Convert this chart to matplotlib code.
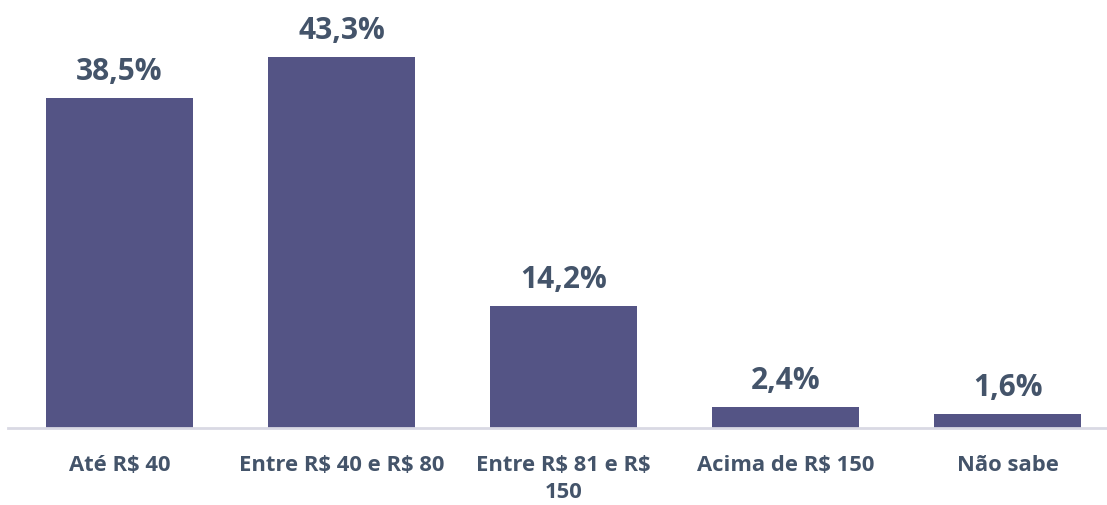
import numpy as np
import matplotlib.pyplot as plt

# Categories and percentages
categories = ["Até R$ 40", "Entre R$ 40 e R$ 80", "Entre R$ 81 e R$\n150",
              "Acima de R$ 150", "Não sabe"]
values = [38.5, 43.3, 14.2, 2.4, 1.6]
value_labels = ["38,5%", "43,3%", "14,2%", "2,4%", "1,6%"]

bar_color = "#545485"
text_color = "#44546A"

plt.rcParams['font.family'] = ['Open Sans', 'DejaVu Sans']

fig = plt.figure(figsize=(11.07, 5.06), dpi=100)
ax = fig.add_axes([0.0, 0.1522, 1.0, 0.8478])

x = np.arange(len(categories))
ax.bar(x, values, width=0.66, color=bar_color, zorder=2)

# value labels above bars
for xi, v, lab in zip(x, values, value_labels):
    ax.annotate(lab, (xi, v), xytext=(0, 14), textcoords='offset points',
                ha='center', va='baseline', fontsize=21.5, fontweight='bold',
                color=text_color)

ax.set_xlim(-0.538, 4.448)
ax.set_ylim(0, 50.1)
ax.set_xticks(x)
ax.set_xticklabels([c.replace("$", r"\$") for c in categories], fontsize=15.8,
                   fontweight='bold', color=text_color, linespacing=1.35)
ax.tick_params(axis='x', length=0, pad=19)
ax.set_yticks([])

for s in ['top', 'right', 'left']:
    ax.spines[s].set_visible(False)
ax.spines['bottom'].set_color('#D9D9E4')
ax.spines['bottom'].set_linewidth(2)
ax.spines['bottom'].set_bounds(-0.502, 4.448)

fig.savefig("out.png", dpi=100)
